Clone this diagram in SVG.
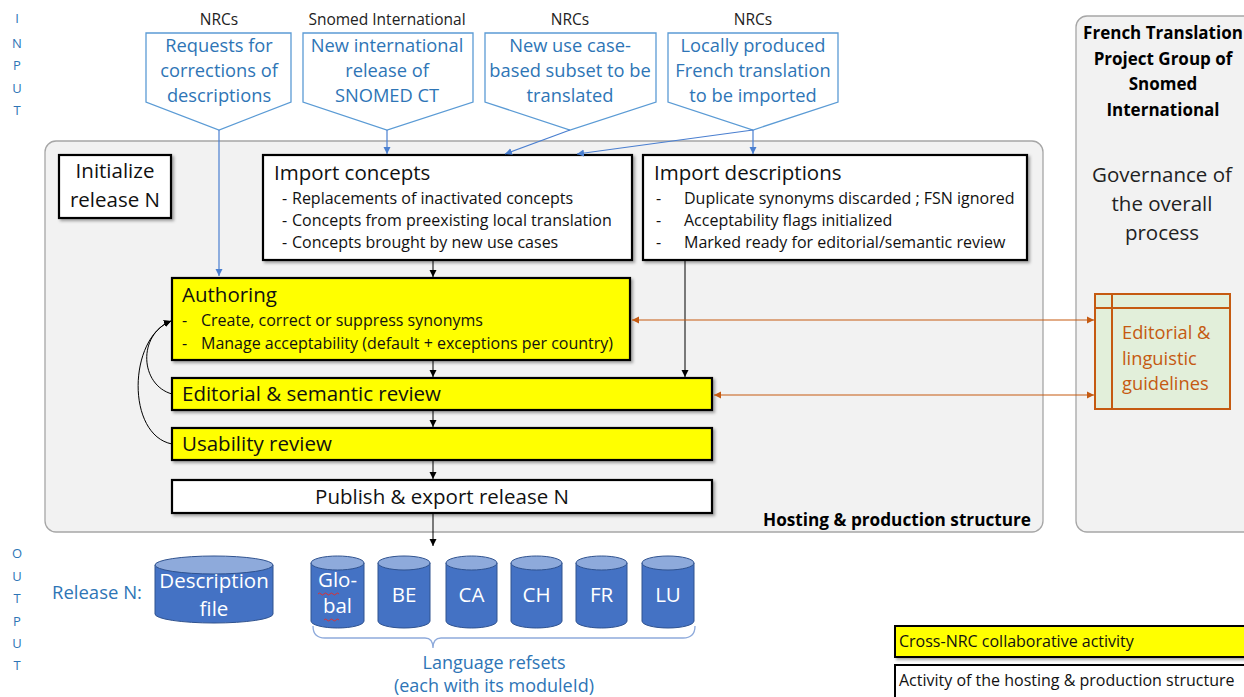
<svg xmlns="http://www.w3.org/2000/svg" width="1244" height="697" viewBox="0 0 1244 697">
<style>
text{font-family:"Open Sans","Liberation Sans",sans-serif}
.io{fill:#2e75b6;font-size:13px;text-anchor:middle}
.hdr{fill:#222;font-size:15.5px;text-anchor:middle}
.co{fill:#fff;stroke:#5b9bd5;stroke-width:1.3}
.cot{fill:#2e75b6;font-size:18.3px;text-anchor:middle}
.box{stroke:#000;stroke-width:2.2;filter:url(#sh)}
.w{fill:#fff}.y{fill:#ffff00}
.t20{font-size:20.5px;fill:#111}
.t19{font-size:20.5px;fill:#111}
.b{font-size:16px;fill:#111}
.cn{fill:none;stroke:#000;stroke-width:1}
.bl{fill:none;stroke:#4a7fd0;stroke-width:1.2}
.or{fill:none;stroke:#c55a11;stroke-width:1.2}
.cyl{fill:#4472c4;stroke:#2f528f;stroke-width:1}
.cylt{fill:#8eaadb;stroke:#2f528f;stroke-width:1}
.ct{fill:#fff;font-size:20.5px;text-anchor:middle}
</style>
<defs>
<filter id="sh" x="-5%" y="-10%" width="115%" height="130%"><feDropShadow dx="2" dy="2" stdDeviation="1.5" flood-color="#000" flood-opacity="0.35"/></filter>
<marker id="ak" markerWidth="8" markerHeight="8" refX="7" refY="4" orient="auto" markerUnits="userSpaceOnUse"><path d="M0,0.5 L7,4 L0,7.5 z" fill="#000"/></marker>
<marker id="ab" markerWidth="8" markerHeight="8" refX="7" refY="4" orient="auto" markerUnits="userSpaceOnUse"><path d="M0,0.5 L7,4 L0,7.5 z" fill="#4a7fd0"/></marker>
<marker id="ao" markerWidth="8" markerHeight="8" refX="7" refY="4" orient="auto-start-reverse" markerUnits="userSpaceOnUse"><path d="M0,0.5 L7,4 L0,7.5 z" fill="#c55a11"/></marker>
</defs>
<rect width="1244" height="697" fill="#fff"/>

<g id="input-label">
<text class="io" x="17" y="23">I</text><text class="io" x="17" y="48">N</text><text class="io" x="17" y="70">P</text><text class="io" x="17" y="93">U</text><text class="io" x="17" y="115">T</text>
</g>

<g id="hosting-container">
<rect x="45" y="141" width="998" height="391" rx="11" fill="#f2f2f2" stroke="#a6a6a6" stroke-width="1.3"/>
<text x="1031" y="526" text-anchor="end" font-size="17.2" font-weight="bold" fill="#000">Hosting &amp; production structure</text>
</g>

<g id="governance-container">
<rect x="1076" y="16" width="180" height="516" rx="11" fill="#f2f2f2" stroke="#a6a6a6" stroke-width="1.3"/>
<g font-size="17" font-weight="bold" fill="#000" text-anchor="middle">
<text x="1163" y="39">French Translation</text>
<text x="1163" y="65">Project Group of</text>
<text x="1163" y="90">Snomed</text>
<text x="1163" y="116">International</text>
</g>
<g font-size="20.5" fill="#222" text-anchor="middle">
<text x="1162" y="182">Governance of</text>
<text x="1162" y="211">the overall</text>
<text x="1162" y="240">process</text>
</g>
</g>

<g id="in-requests">
<text class="hdr" x="219" y="25">NRCs</text>
<path class="co" d="M146,33 H291 V102 L219,130 L146,102 Z"/>
<text class="cot" x="219" y="52">Requests for</text><text class="cot" x="219" y="77">corrections of</text><text class="cot" x="219" y="102">descriptions</text>
</g>
<g id="in-snomed">
<text class="hdr" x="387" y="25">Snomed International</text>
<path class="co" d="M303,33 H473 V102 L387,130 L303,102 Z"/>
<text class="cot" x="387" y="52">New international</text><text class="cot" x="387" y="77">release of</text><text class="cot" x="387" y="102">SNOMED CT</text>
</g>
<g id="in-usecase">
<text class="hdr" x="570" y="25">NRCs</text>
<path class="co" d="M485,33 H656 V102 L570,130 L485,102 Z"/>
<text class="cot" x="570" y="52">New use case-</text><text class="cot" x="570" y="77">based subset to be</text><text class="cot" x="570" y="102">translated</text>
</g>
<g id="in-local">
<text class="hdr" x="753" y="25">NRCs</text>
<path class="co" d="M668,33 H838 V102 L753,130 L668,102 Z"/>
<text class="cot" x="753" y="52">Locally produced</text><text class="cot" x="753" y="77">French translation</text><text class="cot" x="753" y="102">to be imported</text>
</g>

<g id="initialize">
<rect class="box w" x="59" y="155" width="112" height="63"/>
<text class="t20" x="115" y="178" text-anchor="middle">Initialize</text>
<text class="t20" x="115" y="207" text-anchor="middle">release N</text>
</g>

<g id="import-concepts">
<rect class="box w" x="263" y="155" width="369" height="105"/>
<text class="t20" x="274" y="180">Import concepts</text>
<text class="b" x="282" y="204">-</text><text class="b" x="292" y="204">Replacements of inactivated concepts</text>
<text class="b" x="282" y="226">-</text><text class="b" x="292" y="226">Concepts from preexisting local translation</text>
<text class="b" x="282" y="248">-</text><text class="b" x="292" y="248">Concepts brought by new use cases</text>
</g>

<g id="import-descriptions">
<rect class="box w" x="643" y="155" width="384" height="105"/>
<text class="t20" x="654" y="180">Import descriptions</text>
<text class="b" x="656" y="204">-</text><text class="b" x="684" y="204">Duplicate synonyms discarded ; FSN ignored</text>
<text class="b" x="656" y="226">-</text><text class="b" x="684" y="226">Acceptability flags initialized</text>
<text class="b" x="656" y="248">-</text><text class="b" x="684" y="248">Marked ready for editorial/semantic review</text>
</g>

<g id="authoring">
<rect class="box y" x="172" y="278" width="458" height="82"/>
<text class="t20" x="182" y="302">Authoring</text>
<text class="b" x="182" y="326">-</text><text class="b" x="201" y="326">Create, correct or suppress synonyms</text>
<text class="b" x="182" y="349">-</text><text class="b" x="201" y="349">Manage acceptability (default + exceptions per country)</text>
</g>

<g id="editorial-review">
<rect class="box y" x="172" y="378" width="540" height="32"/>
<text class="t19" x="182" y="401">Editorial &amp; semantic review</text>
</g>

<g id="usability-review">
<rect class="box y" x="172" y="428" width="540" height="32"/>
<text class="t19" x="182" y="451">Usability review</text>
</g>

<g id="publish">
<rect class="box w" x="172" y="480" width="540" height="33"/>
<text class="t19" x="442" y="504" text-anchor="middle">Publish &amp; export release N</text>
</g>

<g id="guidelines">
<rect x="1095" y="294" width="135" height="115" fill="#e2efda" stroke="#c55a11" stroke-width="2"/>
<line x1="1112" y1="294" x2="1112" y2="409" stroke="#c55a11" stroke-width="2"/>
<line x1="1095" y1="308" x2="1230" y2="308" stroke="#c55a11" stroke-width="2"/>
<g fill="#c55a11" font-size="18.3">
<text x="1122" y="339">Editorial &amp;</text>
<text x="1122" y="365">linguistic</text>
<text x="1122" y="390">guidelines</text>
</g>
</g>

<g id="connectors">
<line class="bl" x1="219" y1="130" x2="219" y2="276" marker-end="url(#ab)"/>
<line class="bl" x1="387" y1="130" x2="387" y2="154" marker-end="url(#ab)"/>
<line class="bl" x1="570" y1="130" x2="505" y2="154" marker-end="url(#ab)"/>
<line class="bl" x1="753" y1="130" x2="577" y2="154" marker-end="url(#ab)"/>
<line class="bl" x1="753" y1="130" x2="753" y2="154" marker-end="url(#ab)"/>
<line class="cn" x1="433" y1="260" x2="433" y2="277" marker-end="url(#ak)"/>
<line class="cn" x1="433" y1="360" x2="433" y2="377" marker-end="url(#ak)"/>
<line class="cn" x1="433" y1="410" x2="433" y2="427" marker-end="url(#ak)"/>
<line class="cn" x1="433" y1="460" x2="433" y2="479" marker-end="url(#ak)"/>
<line class="cn" x1="433" y1="513" x2="433" y2="546" marker-end="url(#ak)"/>
<line class="cn" x1="685" y1="260" x2="685" y2="377" marker-end="url(#ak)"/>
<path class="cn" d="M172,394 C140,385 137,335 171,321" marker-end="url(#ak)"/>
<path class="cn" d="M172,444 C126,435 128,338 171,321" marker-end="url(#ak)"/>
<line class="or" x1="632" y1="320" x2="1094" y2="320" marker-start="url(#ao)" marker-end="url(#ao)"/>
<line class="or" x1="714" y1="395" x2="1094" y2="395" marker-start="url(#ao)" marker-end="url(#ao)"/>
</g>

<g id="output-label">
<text class="io" x="17" y="558">O</text><text class="io" x="17" y="581">U</text><text class="io" x="17" y="603">T</text><text class="io" x="17" y="626">P</text><text class="io" x="17" y="648">U</text><text class="io" x="17" y="670">T</text>
<text x="52" y="599" font-size="18.5" fill="#2e75b6">Release N:</text>
</g>

<g id="description-file">
<path class="cyl" d="M155,565 V614 A59,9 0 0 0 273,614 V565 Z"/>
<ellipse class="cylt" cx="214" cy="565" rx="59" ry="9"/>
<text class="ct" x="214" y="588">Description</text><text class="ct" x="214" y="616">file</text>
</g>
<g id="refset-global">
<path class="cyl" d="M311,563 V621 A26.5,7 0 0 0 364,621 V563 Z"/>
<ellipse class="cylt" cx="337.5" cy="563" rx="26.5" ry="7"/>
<text class="ct" x="337.5" y="587">Glo-</text><text class="ct" x="337.5" y="613">bal</text>
<path d="M318,594 q1.5,-2 3,0 t3,0 t3,0 t3,0 t3,0 t3,0 t3,0 M324,620 q1.5,-2 3,0 t3,0 t3,0 t3,0 t3,0" fill="none" stroke="#e03030" stroke-width="1"/>
</g>
<g id="refset-be">
<path class="cyl" d="M378,563 V621 A26,7 0 0 0 430,621 V563 Z"/>
<ellipse class="cylt" cx="404" cy="563" rx="26" ry="7"/>
<text class="ct" x="404" y="602">BE</text>
</g>
<g id="refset-ca">
<path class="cyl" d="M446,563 V621 A25.5,7 0 0 0 497,621 V563 Z"/>
<ellipse class="cylt" cx="471.5" cy="563" rx="25.5" ry="7"/>
<text class="ct" x="471.5" y="602">CA</text>
</g>
<g id="refset-ch">
<path class="cyl" d="M511,563 V621 A25.5,7 0 0 0 562,621 V563 Z"/>
<ellipse class="cylt" cx="536.5" cy="563" rx="25.5" ry="7"/>
<text class="ct" x="536.5" y="602">CH</text>
</g>
<g id="refset-fr">
<path class="cyl" d="M576,563 V621 A25.5,7 0 0 0 627,621 V563 Z"/>
<ellipse class="cylt" cx="601.5" cy="563" rx="25.5" ry="7"/>
<text class="ct" x="601.5" y="602">FR</text>
</g>
<g id="refset-lu">
<path class="cyl" d="M642,563 V621 A26,7 0 0 0 694,621 V563 Z"/>
<ellipse class="cylt" cx="668" cy="563" rx="26" ry="7"/>
<text class="ct" x="668" y="602">LU</text>
</g>

<g id="language-refsets">
<path d="M313,626 Q313,638 325,638 H425 Q433,638 433,648 Q433,638 441,638 H683 Q695,638 695,626" fill="none" stroke="#8eaadb" stroke-width="1.3"/>
<text x="494" y="669" font-size="18" fill="#2e75b6" text-anchor="middle">Language refsets</text>
<text x="494" y="692" font-size="18" fill="#2e75b6" text-anchor="middle">(each with its moduleId)</text>
</g>

<g id="legend">
<rect x="895" y="626" width="360" height="31" fill="#ffff00" stroke="#000" stroke-width="2" filter="url(#sh)"/>
<text x="899" y="647" font-size="16" fill="#111">Cross-NRC collaborative activity</text>
<rect x="895" y="665" width="360" height="40" fill="#fff" stroke="#000" stroke-width="2"/>
<text x="899" y="686" font-size="16" fill="#111">Activity of the hosting &amp; production structure</text>
</g>
</svg>
